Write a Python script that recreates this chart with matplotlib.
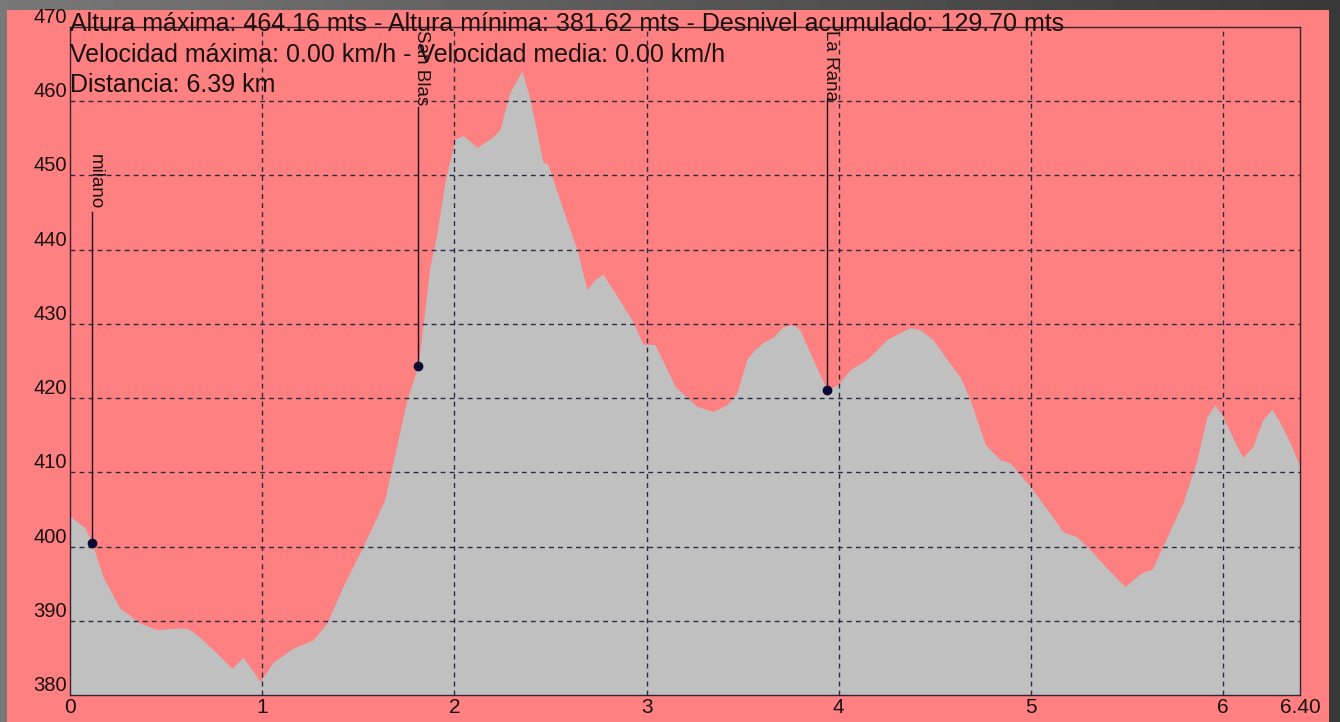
import numpy as np
import matplotlib
matplotlib.use("Agg")
import matplotlib.pyplot as plt
from matplotlib.patches import Rectangle

plt.rcParams['font.family'] = ['Liberation Sans', 'DejaVu Sans']

# Elevation profile (km, m)
dist_km = [0.000, 0.078, 0.114, 0.172, 0.260, 0.364, 0.453, 0.557, 0.609, 0.676,
           0.765, 0.843, 0.900, 0.990, 1.056, 1.160, 1.264, 1.337, 1.420, 1.509,
           1.597, 1.638, 1.753, 1.811, 1.873, 1.910, 1.951, 2.003, 2.045, 2.118,
           2.201, 2.237, 2.289, 2.352, 2.393, 2.461, 2.487, 2.565, 2.638, 2.690,
           2.732, 2.773, 2.825, 2.929, 2.980, 3.044, 3.150, 3.262, 3.346, 3.418,
           3.470, 3.522, 3.554, 3.606, 3.658, 3.710, 3.762, 3.798, 3.866, 3.939,
           3.996, 4.058, 4.147, 4.251, 4.370, 4.423, 4.490, 4.563, 4.631, 4.683,
           4.761, 4.839, 4.891, 4.995, 5.099, 5.166, 5.239, 5.307, 5.395, 5.489,
           5.583, 5.630, 5.708, 5.791, 5.864, 5.916, 5.957, 5.999, 6.072, 6.103,
           6.155, 6.207, 6.254, 6.296, 6.348, 6.400]
elev_m = [404.1, 402.5, 400.5, 395.9, 391.7, 389.7, 388.8, 389.0, 389.0, 387.8,
          385.6, 383.6, 385.1, 381.8, 384.4, 386.3, 387.4, 389.7, 394.6, 399.2,
          404.0, 406.3, 419.8, 424.3, 437.7, 442.3, 449.1, 454.9, 455.4, 453.8,
          455.2, 456.2, 461.2, 464.1, 460.3, 451.8, 451.5, 445.4, 440.0, 434.6,
          436.0, 436.7, 434.6, 430.3, 427.3, 427.2, 421.5, 418.9, 418.2, 419.1,
          420.7, 425.2, 426.3, 427.5, 428.2, 429.6, 429.9, 429.2, 425.2, 421.1,
          421.8, 423.8, 425.2, 427.9, 429.5, 429.2, 427.9, 425.2, 422.9, 419.8,
          413.8, 411.7, 411.3, 408.1, 404.5, 402.0, 401.3, 399.6, 397.1, 394.6,
          396.6, 396.9, 401.3, 405.9, 411.7, 417.5, 419.1, 417.5, 413.5, 412.0,
          413.5, 417.1, 418.5, 416.7, 414.0, 410.8]

# Waypoints
wp_names = ['milano', 'San Blas', 'La Rana']
wp_km = [0.114, 1.811, 3.939]
wp_elev = [400.5, 424.3, 421.1]
wp_label_top = [452.9, 469.6, 469.6]

header_lines = [
    "Altura máxima: 464.16 mts - Altura mínima: 381.62 mts - Desnivel acumulado: 129.70 mts",
    "Velocidad máxima: 0.00 km/h - Velocidad media: 0.00 km/h",
    "Distancia: 6.39 km",
]

x_ticks = [0, 1, 2, 3, 4, 5, 6, 6.4]
x_tick_labels = ['0', '1', '2', '3', '4', '5', '6', '6.40']
y_ticks = [380, 390, 400, 410, 420, 430, 440, 450, 460, 470]

W, H = 1340, 722
fig = plt.figure(figsize=(W / 100, H / 100), dpi=100)

# grey gradient background
bg = fig.add_axes([0, 0, 1, 1])
grad = np.linspace(0.47, 0.22, 256).reshape(1, -1)
bg.imshow(grad, cmap='gray', vmin=0, vmax=1, aspect='auto', extent=[0, 1, 0, 1])
bg.set_xlim(0, 1)
bg.set_ylim(0, 1)
bg.axis('off')
bg.add_patch(Rectangle((7 / W, 0), (1329 - 7) / W, (H - 10) / H,
                       facecolor='#ff8080', edgecolor='none'))

ax = fig.add_axes([70 / W, 27 / H, 1230 / W, 668 / H])
ax.set_facecolor('#ff8080')
ax.fill_between(dist_km, elev_m, 370, color='#c0c0c0', lw=0, zorder=1)
ax.set_xlim(0, 6.4)
ax.set_ylim(380, 470)

grid_kw = dict(color='#2a2a45', lw=1, ls=(0, (3.5, 3)), zorder=2)
for x in x_ticks[1:-1]:
    ax.axvline(x, **grid_kw)
for y in y_ticks[1:-1]:
    ax.axhline(y, **grid_kw)

for s in ax.spines.values():
    s.set_color('#3a2030')
    s.set_linewidth(1)
    s.set_zorder(3)

ax.set_xticks(x_ticks)
ax.set_xticklabels(x_tick_labels, fontsize=15, color='#1a1010')
ax.set_yticks(y_ticks)
ax.set_yticklabels([str(v) for v in y_ticks], fontsize=14.5, color='#1a1010')
for lab in ax.get_yticklabels():
    lab.set_va('bottom')
ax.tick_params(length=0, pad=2)

# waypoints
for name, xk, ye, top in zip(wp_names, wp_km, wp_elev, wp_label_top):
    ax.text(xk + 0.02, top, name, rotation=270, ha='center', va='top',
            fontsize=13.5, color='#1a1010', zorder=5)
    bottom_y = top - len(name) * 1.3
    ax.plot([xk, xk], [ye, bottom_y], color='#1a1020', lw=1, zorder=4)
    ax.plot(xk, ye, 'o', color='#0a0a33', ms=6, zorder=6)

for i, line in enumerate(header_lines):
    fig.text(70 / W, (H - 31 - i * 30.5) / H, line, fontsize=18,
             color='#1a1010', ha='left', va='baseline')

fig.savefig('out.png', dpi=100)
